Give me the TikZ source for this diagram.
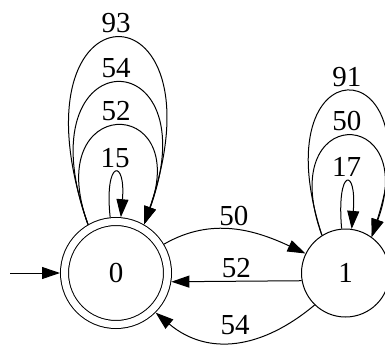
\documentclass[tikz,border=0pt]{standalone}
\usepackage{fontspec}
\setmainfont{Liberation Serif}
\usetikzlibrary{positioning,arrows.meta}
\tikzstyle{st}=[draw, circle, inner sep=0pt, minimum size=88pt, line width=1pt, font=\fontsize{29}{34}\selectfont]
\tikzstyle{fin}=[double, double distance=7pt, minimum size=103pt, outer sep=4.5pt]

\begin{document}
\begin{tikzpicture}[x=1pt, y=1pt, line width=1pt, >={Triangle[length=18pt, width=12pt]},
	el/.style = {font=\fontsize{29}{34}\selectfont, inner sep=3pt}]

	\useasboundingbox (0,0) rectangle (385,346);

	\node[st, fin] (q0) at (116, 73) {0};
	\node[st] (q1) [right = 129pt of q0] {1};
	\coordinate[left = 50pt of q0] (init);

	\draw (init) edge[->] (q0);

	% loops on 0
	\draw (q0.96) edge[->, out =  96, in =  85, distance =  59pt]
	node[el, above = 2pt] {15} (q0.85);

	\draw (q0.120) edge[->, out = 110, in =  70, distance = 139pt]
	node[el, above = 2pt] {52} (q0.60);

	\draw (q0.120) edge[->, out = 110, in =  70, distance = 200pt]
	node[el, above = 2pt] {54} (q0.60);

	\draw (q0.120) edge[->, out = 109, in =  71, distance = 262pt]
	node[el, above = 2pt] {93} (q0.60);

	% loops on 1
	\draw (q1.95) edge[->, out =  95, in =  85, distance =  62pt]
	node[el, above = 2pt] {17} (q1.82);

	\draw (q1.122) edge[->, out = 110, in =  70, distance = 141pt]
	node[el, above = 2pt] {50} (q1.54);

	\draw (q1.122) edge[->, out = 108, in =  72, distance = 202pt]
	node[el, above = 2pt] {91} (q1.54);

	% between the states
	\draw (q0.31) edge[->, out = 30, in = 155]
	node[el, above] {50} (q1.154);

	\draw (q1.190) edge[->]
	node[el, above] {52} (q0.-9);

	\draw (q1.226) edge[->, out = 220, in = -40, looseness = 1.1]
	node[el, above = 4pt] {54} (q0.-45);

\end{tikzpicture}
\end{document}
